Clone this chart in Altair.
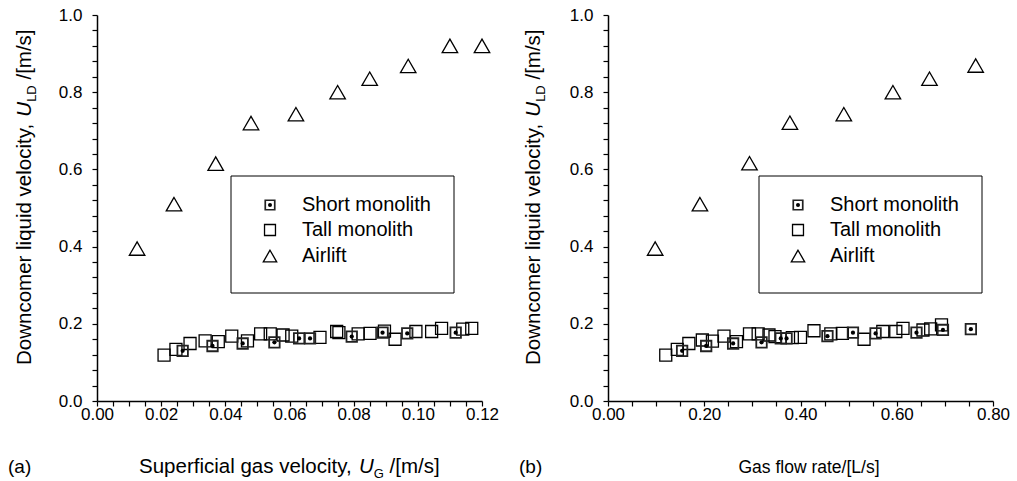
import altair as alt
import pandas as pd

FONT = "Liberation Sans"

# ---------------- data: panel (a) superficial gas velocity ----------------
a_air_x = [0.0125, 0.024, 0.037, 0.048, 0.062, 0.075, 0.085, 0.097, 0.110, 0.120]
a_air_y = [0.395, 0.51, 0.615, 0.72, 0.743, 0.80, 0.835, 0.868, 0.92, 0.92]

a_tall_x = [0.0209, 0.0246, 0.029, 0.0337, 0.0378, 0.042, 0.0469, 0.051, 0.054, 0.058,
            0.0607, 0.0695, 0.0747, 0.0754, 0.0814, 0.0851, 0.0896, 0.0929, 0.0994, 0.1043,
            0.1074, 0.114, 0.1168]
a_tall_y = [0.119, 0.134, 0.149, 0.156, 0.154, 0.168, 0.156, 0.174, 0.174, 0.171,
            0.168, 0.165, 0.180, 0.177, 0.174, 0.175, 0.181, 0.160, 0.180, 0.180,
            0.188, 0.186, 0.188]

a_short_x = [0.0267, 0.036, 0.0454, 0.0553, 0.063, 0.0664, 0.0794, 0.089, 0.0967, 0.1118]
a_short_y = [0.130, 0.1425, 0.149, 0.152, 0.162, 0.162, 0.167, 0.177, 0.175, 0.177]

# ---------------- data: panel (b) gas flow rate ----------------
b_air_x = [0.098, 0.191, 0.294, 0.378, 0.490, 0.592, 0.668, 0.764]
b_air_y = [0.395, 0.51, 0.616, 0.721, 0.743, 0.80, 0.835, 0.869]

b_tall_x = [0.120, 0.144, 0.168, 0.196, 0.217, 0.241, 0.267, 0.294, 0.312, 0.3345,
            0.347, 0.383, 0.400, 0.428, 0.463, 0.487, 0.532, 0.571, 0.598, 0.613,
            0.6545, 0.6705, 0.693]
b_tall_y = [0.119, 0.134, 0.149, 0.158, 0.155, 0.168, 0.154, 0.174, 0.174, 0.171,
            0.167, 0.164, 0.165, 0.182, 0.174, 0.175, 0.160, 0.180, 0.180, 0.188,
            0.184, 0.187, 0.197]

b_short_x = [0.154, 0.204, 0.260, 0.319, 0.359, 0.371, 0.456, 0.509, 0.556, 0.641, 0.696, 0.754]
b_short_y = [0.130, 0.1425, 0.149, 0.152, 0.162, 0.162, 0.168, 0.177, 0.175, 0.177, 0.184, 0.186]

# ---------------- axes ----------------
a_major_step = 0.02
b_major_step = 0.2
y_major_step = 0.2
a_minor = [round(i * 0.005, 4) for i in range(25)]
b_minor = [round(i * 0.05, 4) for i in range(17)]
y_minor = [round(i * 0.04, 4) for i in range(26)]

legend_labels = ["Short monolith", "Tall monolith", "Airlift"]

W, H = 385, 386
ONE = alt.Data(values=[{"k": 0}])
TF = 20.5  # title font size


def major_expr(step, fmt):
    k = round(1 / step)
    return (f"abs(datum.value*{k} - round(datum.value*{k})) < 0.001 ? "
            f"format(datum.value, '{fmt}') : ''")


def txt(text, x, y, size, align="left", baseline="alphabetic", angle=None, italic=False):
    kw = dict(text=text, font=FONT, fontSize=size, align=align, baseline=baseline, color="black")
    if angle is not None:
        kw["angle"] = angle
    if italic:
        kw["fontStyle"] = "italic"
    return alt.Chart(ONE).mark_text(**kw).encode(x=alt.value(x), y=alt.value(y))


def panel(xmax, xstep, xminor, air_x, air_y, tall_x, tall_y, short_x, short_y,
          leg_x0, tag, xtitle_layers, ytitle_x):
    xscale = alt.Scale(domain=[0, xmax], nice=False, zero=False)
    yscale = alt.Scale(domain=[0, 1.0], nice=False)
    xaxis = alt.Axis(values=xminor, labelExpr=major_expr(xstep, ".2f"), ticks=True, tickSize=5,
                     tickColor="black", tickWidth=1.2, grid=False, title=None,
                     domainColor="black", domainWidth=1.5, labelFont=FONT, labelFontSize=17,
                     labelColor="black", labelPadding=0, labelFlush=False, labelOverlap=False)
    yaxis = alt.Axis(values=y_minor, labelExpr=major_expr(y_major_step, ".1f"), ticks=True,
                     tickSize=5, tickColor="black", tickWidth=1.2, grid=False, title=None,
                     domainColor="black", domainWidth=1.5, labelFont=FONT, labelFontSize=17,
                     labelColor="black", labelPadding=10, labelFlush=False, labelOverlap=False)

    def X(f):
        return alt.X(f, type="quantitative", scale=xscale, axis=xaxis)

    def Y(f):
        return alt.Y(f, type="quantitative", scale=yscale, axis=yaxis)

    air = pd.DataFrame({"x": air_x, "y": air_y})
    tall = pd.DataFrame({"x": tall_x, "y": tall_y})
    short = pd.DataFrame({"x": short_x, "y": short_y})

    layers = []
    layers.append(alt.Chart(tall).mark_point(shape="square", filled=False, size=144,
                                             stroke="black", strokeWidth=1.3, opacity=1).encode(x=X("x"), y=Y("y")))
    layers.append(alt.Chart(short).mark_point(shape="square", filled=False, size=110,
                                              stroke="#222", strokeWidth=1.8, opacity=1).encode(x=X("x"), y=Y("y")))
    layers.append(alt.Chart(short).mark_point(shape="circle", filled=True, size=18,
                                              color="black", opacity=1).encode(x=X("x"), y=Y("y")))
    layers.append(alt.Chart(air).mark_point(shape="triangle-up", filled=False, size=240,
                                            stroke="black", strokeWidth=1.3, opacity=1).encode(x=X("x"), y=Y("y")))

    # legend box
    layers.append(alt.Chart(ONE).mark_rect(fill="white", stroke="black", strokeWidth=1).encode(
        x=alt.value(leg_x0), x2=alt.value(leg_x0 + 223), y=alt.value(161), y2=alt.value(278)))
    sx = leg_x0 + 39
    tx = leg_x0 + 71
    rows = [190, 215, 241]
    layers.append(alt.Chart(ONE).mark_point(shape="square", filled=False, size=90, stroke="#222",
                                            strokeWidth=1.7, opacity=1).encode(x=alt.value(sx), y=alt.value(rows[0])))
    layers.append(alt.Chart(ONE).mark_point(shape="circle", filled=True, size=16, color="black",
                                            opacity=1).encode(x=alt.value(sx), y=alt.value(rows[0])))
    layers.append(alt.Chart(ONE).mark_point(shape="square", filled=False, size=120, stroke="black",
                                            strokeWidth=1.3, opacity=1).encode(x=alt.value(sx), y=alt.value(rows[1])))
    layers.append(alt.Chart(ONE).mark_point(shape="triangle-up", filled=False, size=180, stroke="black",
                                            strokeWidth=1.3, opacity=1).encode(x=alt.value(sx), y=alt.value(rows[2])))
    for lab, ry in zip(legend_labels, rows):
        layers.append(txt(lab, tx, ry, 20, baseline="middle"))

    # panel tag
    layers.append(txt(tag, -89, 452, 19, baseline="middle"))

    # x title
    layers.extend(xtitle_layers)

    # y title (rotated, reading bottom to top)
    y0 = 350                       # bottom of the title
    w1 = 11.836 * TF               # "Downcomer liquid velocity,"
    sp = 0.278 * TF
    yu = y0 - w1 - sp
    wu = 0.722 * TF
    wsub = 1.278 * 13
    layers.append(txt("Downcomer liquid velocity,", ytitle_x, y0, TF, angle=270))
    layers.append(txt("U", ytitle_x, yu, TF, angle=270, italic=True))
    layers.append(txt("LD", ytitle_x + 5, yu - wu, 13, angle=270))
    layers.append(txt("/[m/s]", ytitle_x, yu - wu - wsub - sp, TF, angle=270))

    return alt.layer(*layers).properties(width=W, height=H)


# left x title: "Superficial gas velocity, U_G /[m/s]"
xa0 = 42
w_a1 = 10.448 * TF
sp_a = 0.278 * TF
xu = xa0 + w_a1 + sp_a
left_xtitle = [
    txt("Superficial gas velocity,", xa0, 458, TF),
    txt("U", xu, 458, TF, italic=True),
    txt("G", xu + 0.722 * TF, 463, 13),
    txt("/[m/s]", xu + 0.722 * TF + 0.778 * 13 + sp_a, 458, TF),
]
right_xtitle = [txt("Gas flow rate/[L/s]", 201, 458, 17.5, align="center")]

left = panel(0.12, a_major_step, a_minor, a_air_x, a_air_y, a_tall_x, a_tall_y, a_short_x, a_short_y,
             134, "(a)", left_xtitle, -66)
right = panel(0.8, b_major_step, b_minor, b_air_x, b_air_y, b_tall_x, b_tall_y, b_short_x, b_short_y,
              151, "(b)", right_xtitle, -68)

chart = alt.hconcat(left, right, spacing=20).properties(
    padding={"left": 8, "top": 6, "right": 0, "bottom": 0},
    background="white",
).configure_view(stroke=None)

chart.save("out.html", embed_options={"renderer": "svg", "actions": False})
